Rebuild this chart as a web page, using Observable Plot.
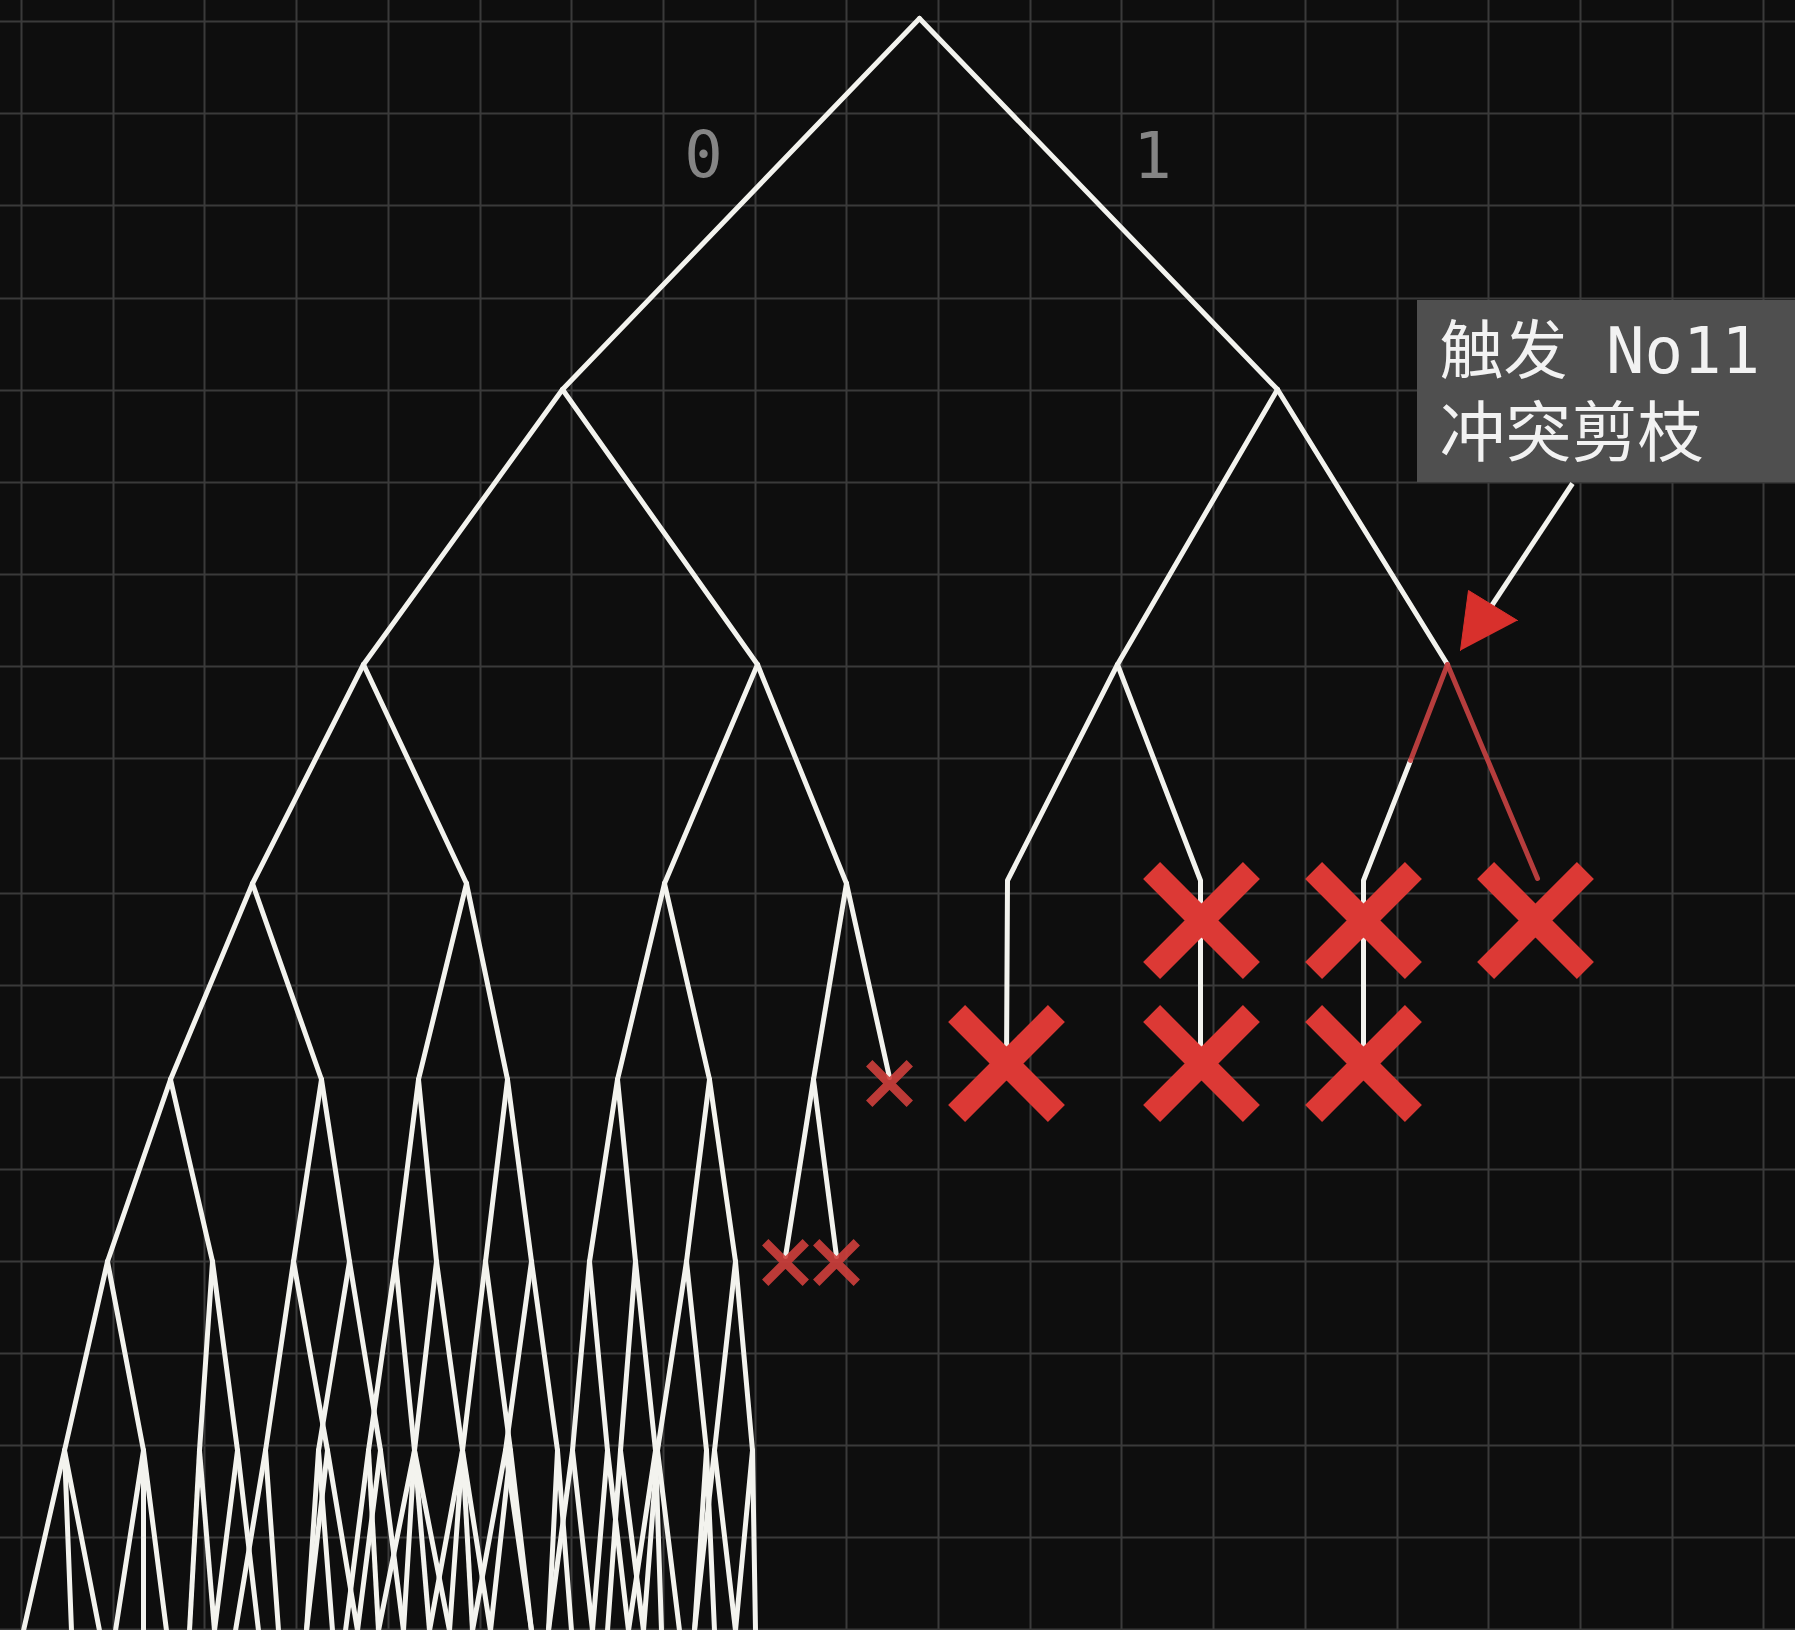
<!DOCTYPE html>
<html>
<head>
<meta charset="utf-8">
<script src="https://cdn.jsdelivr.net/npm/d3@7"></script>
<script src="https://cdn.jsdelivr.net/npm/@observablehq/plot@0.6"></script>
<style>
  html, body { margin: 0; padding: 0; background: #0e0e0e; overflow: hidden; }
  #chart svg { display: block; }
</style>
</head>
<body>
<div id="chart"></div>
<script>
// ---------- canvas / grid ----------
const W = 1795, H = 1630;
const gridX = [21, 113, 204, 296, 388, 480, 571, 663, 755, 846, 938, 1030, 1121, 1213, 1305, 1397, 1488, 1580, 1672, 1763];
const gridY = [21, 113, 205, 298, 390, 482, 574, 666, 758, 893, 985, 1077, 1169, 1261, 1353, 1445, 1537, 1629];

// ---------- search tree (node positions per depth, parent index per depth) ----------
const levelY = [18, 389, 664, 883, 1079, 1261, 1450, 1630];
const lvl0X = [919];
const lvl1X = [562, 1277];
const lvl1Parent = [0, 0];
const lvl2X = [363, 757, 1117, 1447];
const lvl2Parent = [0, 0, 1, 1];
const lvl3X = [252, 466, 664, 846];
const lvl3Parent = [0, 0, 1, 1];
const lvl4X = [170, 321, 418, 507, 617, 709, 813];
const lvl4Parent = [0, 0, 1, 1, 2, 2, 3];
const lvl5X = [107, 212, 293, 349, 395, 436, 485, 531, 589, 635, 686, 735];
const lvl5Parent = [0, 0, 1, 1, 2, 2, 3, 3, 4, 4, 5, 5];
const lvl6X = [64, 143, 199, 237, 265, 327, 318, 380, 368, 414, 414, 462, 462, 510, 505, 557, 572, 607, 620, 655, 657, 706, 714, 752];
const lvl6Parent = [0, 0, 1, 1, 2, 2, 3, 3, 4, 4, 5, 5, 6, 6, 7, 7, 8, 8, 9, 9, 10, 10, 11, 11];
const lvl7X = [23, 71, 99, 115, 143, 166, 189, 214, 214, 258, 235, 278, 306, 357, 306, 332,
               357, 403, 345, 378, 403, 429, 378, 449, 449, 472, 429, 490, 490, 531, 472, 531,
               548, 571, 548, 592, 592, 628, 607, 643, 628, 661, 643, 679, 694, 714, 694, 735, 735, 755];
const lvl7Parent = [0, 0, 0, 1, 1, 1, 2, 2, 3, 3, 4, 4, 5, 5, 6, 6,
                    7, 7, 8, 8, 9, 9, 10, 10, 11, 11, 12, 12, 13, 13, 14, 14,
                    15, 15, 16, 16, 17, 17, 18, 18, 19, 19, 20, 20, 21, 21, 22, 22, 23, 23];

// conflicting leaves reached in the left half (small crosses) and their parents
const smallCrossX = [889, 785, 836];
const smallCrossY = [1083, 1262, 1262];
const smallCrossParentX = [846, 813, 813];
const smallCrossParentY = [883, 1079, 1079];

// pruned right half: white stems and red (being pruned) stems
const stemId = ["a", "a", "a", "b", "b", "b", "c", "c", "c"];
const stemX = [1117, 1007, 1006, 1117, 1200, 1200, 1410, 1363, 1363];
const stemY = [664, 880, 1063, 664, 880, 1063, 760, 880, 1063];
const redId = ["d", "d", "e", "e"];
const redX = [1447, 1410, 1447, 1537];
const redY = [664, 760, 664, 878];

// big crosses (conflicts)
const bigCrossX = [1201, 1363, 1535, 1006, 1201, 1363];
const bigCrossY = [920, 920, 920, 1063, 1063, 1063];

// edge labels
const edgeLabels = ["0", "1"];
const edgeLabelX = [703, 1152];
const edgeLabelY = [156, 157];

// callout
const calloutLines = ["触发 No11", "冲突剪枝"];
const calloutX = [1439, 1439];
const calloutY = [352, 434];
const calloutSize = [64, 66];
const calloutBox = {x1: 1417, x2: 1795, y1: 300, y2: 482};
const arrowShaft = {x1: 1572, y1: 483, x2: 1490, y2: 607};
const arrowHeadX = [1460, 1468, 1517];
const arrowHeadY = [650, 590, 620];

// ---------- build tables ----------
const levels = [lvl0X, lvl1X, lvl2X, lvl3X, lvl4X, lvl5X, lvl6X, lvl7X];
const parents = [null, lvl1Parent, lvl2Parent, lvl3Parent, lvl4Parent, lvl5Parent, lvl6Parent, lvl7Parent];
const treeEdges = [];
for (let d = 1; d < levels.length; d++) {
  levels[d].forEach((x, i) => {
    const p = parents[d][i];
    treeEdges.push({x1: levels[d - 1][p], y1: levelY[d - 1], x2: x, y2: levelY[d]});
  });
}
smallCrossX.forEach((x, i) => treeEdges.push({x1: smallCrossParentX[i], y1: smallCrossParentY[i], x2: x, y2: smallCrossY[i] - 6}));

const stems = stemId.map((id, i) => ({id, x: stemX[i], y: stemY[i]}));
const reds = redId.map((id, i) => ({id, x: redX[i], y: redY[i]}));
const bigCross = bigCrossX.map((x, i) => ({x, y: bigCrossY[i]}));
const smallCross = smallCrossX.map((x, i) => ({x, y: smallCrossY[i]}));
const labels = edgeLabels.map((t, i) => ({t, x: edgeLabelX[i], y: edgeLabelY[i]}));
const callout = calloutLines.map((t, i) => ({t, x: calloutX[i], y: calloutY[i], s: calloutSize[i]}));
const head = arrowHeadX.map((x, i) => ({x, y: arrowHeadY[i]}));

const WHITE = "#f3f3ee";

const chart = Plot.plot({
  width: W,
  height: H,
  margin: 0,
  x: {domain: [0, W], range: [0, W], axis: null},
  y: {domain: [0, H], range: [0, H], axis: null},
  style: {background: "#0e0e0e"},
  marks: [
    Plot.ruleX(gridX, {stroke: "#3a3a3a", strokeWidth: 2}),
    Plot.ruleY(gridY, {stroke: "#3a3a3a", strokeWidth: 2}),
    Plot.link(treeEdges, {x1: "x1", y1: "y1", x2: "x2", y2: "y2", stroke: WHITE, strokeWidth: 5, strokeLinecap: "round"}),
    Plot.line(stems, {x: "x", y: "y", z: "id", stroke: WHITE, strokeWidth: 5, strokeLinejoin: "round", strokeLinecap: "round"}),
    Plot.line(reds, {x: "x", y: "y", z: "id", stroke: "#c94242", strokeOpacity: 0.9, strokeWidth: 5, strokeLinecap: "round"}),
    Plot.dot(smallCross, {x: "x", y: "y", symbol: "times", r: 18.5, stroke: "#cf3f3c", strokeOpacity: 0.9, strokeWidth: 9, strokeLinecap: "butt"}),
    Plot.dot(bigCross, {x: "x", y: "y", symbol: "times", r: 45.5, stroke: "#dc3935", strokeWidth: 24, strokeLinecap: "butt"}),
    Plot.text(labels, {x: "x", y: "y", text: "t", fill: "#858585", fontSize: 64, fontFamily: "DejaVu Sans Mono, monospace", textAnchor: "middle"}),
    Plot.rect([calloutBox], {x1: "x1", x2: "x2", y1: "y1", y2: "y2", fill: "#4f4f4f"}),
    Plot.text(callout, {x: "x", y: "y", text: "t", fill: "#f2f2f2", fontSize: "s", fontFamily: "DejaVu Sans Mono, Noto Sans CJK SC, sans-serif", textAnchor: "start"}),
    Plot.link([arrowShaft], {x1: "x1", y1: "y1", x2: "x2", y2: "y2", stroke: WHITE, strokeWidth: 5}),
    Plot.line(head, {x: "x", y: "y", fill: "#d8302c", stroke: "#d8302c", strokeWidth: 1})
  ]
});
document.getElementById("chart").append(chart);
</script>
</body>
</html>
